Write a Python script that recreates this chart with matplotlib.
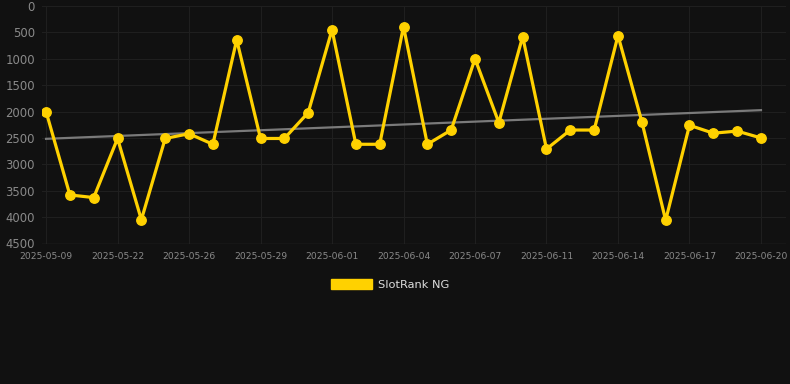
import numpy as np
import matplotlib
matplotlib.use("Agg")
import matplotlib.pyplot as plt

# rank per day (lower = better)
ranks = [2000, 3580, 3630, 2510, 4050, 2510, 2420, 2620, 640, 2510,
         2510, 2020, 450, 2620, 2620, 390, 2620, 2350, 1000, 2210,
         580, 2710, 2350, 2350, 560, 2190, 4060, 2260, 2410, 2370, 2500]

tick_labels = ["2025-05-09", "2025-05-22", "2025-05-26", "2025-05-29",
               "2025-06-01", "2025-06-04", "2025-06-07", "2025-06-11",
               "2025-06-14", "2025-06-17", "2025-06-20"]
series_name = "SlotRank NG"

bg = "#111111"
gold = "#FFD100"

x = np.arange(len(ranks))
slope, icept = np.polyfit(x, ranks, 1)

fig = plt.figure(figsize=(7.9, 3.84), dpi=100, facecolor=bg)
ax = fig.add_axes([42 / 790, 1 - 243.5 / 384, 744 / 790, 237.5 / 384])
ax.set_facecolor(bg)

ax.plot(x, slope * x + icept, color="#7a7a7a", lw=1.6, zorder=2)
ax.plot(x, ranks, color=gold, lw=2.3, marker="o", ms=6.8, zorder=3,
        label=series_name)

ax.set_ylim(4500, 0)
ax.set_yticks(np.arange(0, 4501, 500))
ax.set_xlim(-0.17, 31.05)
ax.set_xticks(x[::3])
ax.set_xticklabels(tick_labels)

ax.grid(True, color="#1f1f1f", lw=0.8)
ax.set_axisbelow(True)
for s in ax.spines.values():
    s.set_visible(False)
ax.axhline(4500, color="#2e2e2e", lw=1, zorder=1)

ax.tick_params(axis="y", length=0, pad=5, labelsize=8.4, labelcolor="#8a8a8a")
ax.tick_params(axis="x", length=0, pad=6, labelsize=6.6, labelcolor="#8a8a8a")

leg = fig.legend(handles=[plt.Rectangle((0, 0), 1, 1, color=gold)],
                 labels=[series_name], loc="center",
                 bbox_to_anchor=(390 / 790, 1 - 284.5 / 384),
                 frameon=False, fontsize=8.2, handlelength=3.6,
                 handleheight=0.9, handletextpad=0.5)
for t in leg.get_texts():
    t.set_color("#dddddd")

fig.savefig("out.png", dpi=100, facecolor=bg)
